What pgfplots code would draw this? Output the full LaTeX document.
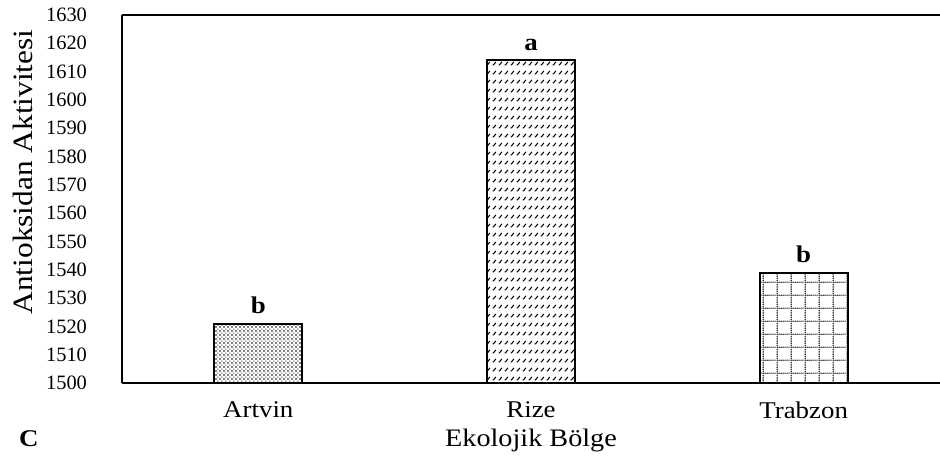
\documentclass[border=0pt]{standalone}
\usepackage{fontspec}
\setmainfont{Liberation Serif}[FakeStretch=1.12]
\newfontfamily\tickfont{Liberation Serif}
\usepackage{pgfplots}
\pgfplotsset{compat=1.18}
\usetikzlibrary{patterns}

\pgfdeclarepatternformonly{artdots}{\pgfqpoint{0pt}{0pt}}{\pgfqpoint{2.2pt}{2.2pt}}{\pgfqpoint{2.2pt}{2.2pt}}{%
  \pgfpathcircle{\pgfqpoint{0.55pt}{0.55pt}}{0.46pt}%
  \pgfpathcircle{\pgfqpoint{1.65pt}{1.65pt}}{0.34pt}%
  \pgfusepath{fill}}

\pgfdeclarepatternformonly{rizedash}{\pgfqpoint{0pt}{0pt}}{\pgfqpoint{3pt}{4.5pt}}{\pgfqpoint{3pt}{4.5pt}}{%
  \pgfsetlinewidth{0.6pt}%
  \pgfpathmoveto{\pgfqpoint{0.3pt}{1.2pt}}%
  \pgfpathlineto{\pgfqpoint{0.9pt}{1.2pt}}%
  \pgfpathlineto{\pgfqpoint{2.2pt}{2.8pt}}%
  \pgfusepath{stroke}}

\pgfdeclarepatternformonly{trabgrid}{\pgfqpoint{0pt}{0pt}}{\pgfqpoint{7.2pt}{6.4pt}}{\pgfqpoint{7.2pt}{6.4pt}}{%
  \pgfpathcircle{\pgfqpoint{0.6pt}{0.4pt}}{0.36pt}%
  \pgfpathcircle{\pgfqpoint{0.6pt}{1.31pt}}{0.36pt}%
  \pgfpathcircle{\pgfqpoint{0.6pt}{2.23pt}}{0.36pt}%
  \pgfpathcircle{\pgfqpoint{0.6pt}{3.14pt}}{0.36pt}%
  \pgfpathcircle{\pgfqpoint{0.6pt}{4.06pt}}{0.36pt}%
  \pgfpathcircle{\pgfqpoint{0.6pt}{4.97pt}}{0.36pt}%
  \pgfpathcircle{\pgfqpoint{0.6pt}{5.88pt}}{0.36pt}%
  \pgfpathcircle{\pgfqpoint{1.63pt}{0.4pt}}{0.36pt}%
  \pgfpathcircle{\pgfqpoint{2.66pt}{0.4pt}}{0.36pt}%
  \pgfpathcircle{\pgfqpoint{3.69pt}{0.4pt}}{0.36pt}%
  \pgfpathcircle{\pgfqpoint{4.72pt}{0.4pt}}{0.36pt}%
  \pgfpathcircle{\pgfqpoint{5.75pt}{0.4pt}}{0.36pt}%
  \pgfpathcircle{\pgfqpoint{6.78pt}{0.4pt}}{0.36pt}%
  \pgfusepath{fill}}

\begin{document}
\begin{tikzpicture}
\begin{axis}[
  scale only axis,
  width=409pt, height=184pt,
  xmin=-0.5, xmax=2.5,
  ymin=1500, ymax=1630,
  ytick distance=10,
  xtick={0,1,2},
  xticklabels={Artvin,Rize,Trabzon},
  axis x line*=bottom,
  axis y line*=left,
  axis line style={line width=1pt, black},
  major tick length=0pt,
  clip=false,
  /pgf/number format/assume math mode=true,
  /pgf/number format/1000 sep={},
  every y tick label/.append style={font=\tickfont\fontsize{10.2}{10.2}\selectfont, anchor=east, xshift=-14pt},
  every x tick label/.append style={font=\fontsize{12}{12}\selectfont},
  xticklabel shift=6pt,
  ybar, bar width=44pt, bar shift=0pt,
  point meta=explicit symbolic,
  nodes near coords,
  every node near coord/.append style={font=\bfseries\fontsize{12}{12}\selectfont, anchor=base, inner sep=0pt, yshift=5pt},
]
\addplot[draw=black, line width=1pt, pattern=artdots, pattern color=black] coordinates {(0,1521) [b]};
\addplot[draw=black, line width=1pt, pattern=rizedash, pattern color=black] coordinates {(1,1614) [a]};
\addplot[draw=black, line width=1pt, pattern=trabgrid, pattern color=black] coordinates {(2,1539) [b]};
\draw[line width=1pt] (rel axis cs:0,1) -- (rel axis cs:1,1);
\coordinate (SW) at (rel axis cs:0,0);
\coordinate (NE) at (rel axis cs:1,1);
\end{axis}
\node[anchor=base, font=\fontsize{12.6}{12.6}\selectfont] at ([xshift=204.5pt,yshift=-32pt]SW) {Ekolojik Bölge};
\node[anchor=base west, font=\bfseries\fontsize{12}{12}\selectfont] at ([xshift=-55pt,yshift=-32pt]SW) {C};
\node[rotate=90, font=\fontsize{14}{14}\selectfont] at ([xshift=-49.5pt,yshift=105.5pt]SW) {Antioksidan Aktivitesi};
\pgfresetboundingbox
\path ([xshift=-61pt,yshift=-40pt]SW) rectangle ([yshift=7.5pt]NE);
\end{tikzpicture}
\end{document}
